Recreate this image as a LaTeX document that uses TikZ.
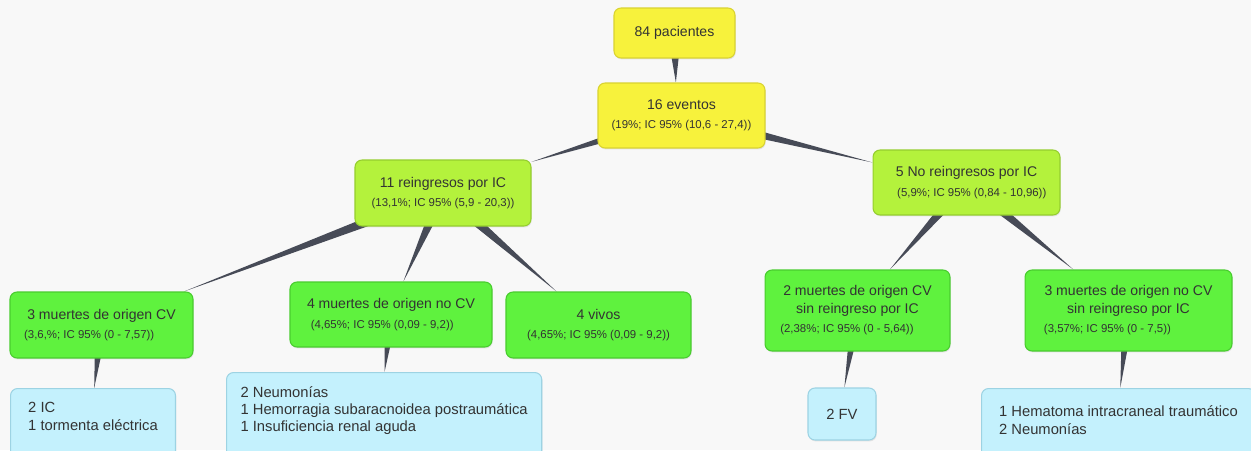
\documentclass[tikz,border=0pt]{standalone}
\usepackage{xcolor}
\usepackage{tikz}
\usepackage{fontspec}
\setmainfont{Liberation Sans}
\usetikzlibrary{calc,shadows,backgrounds}

\definecolor{pagebg}{HTML}{F8F8F8}
\definecolor{linkcol}{HTML}{474B57}
\definecolor{txtcol}{HTML}{333333}
\definecolor{yelfill}{HTML}{F7F23C}
\definecolor{yeldraw}{HTML}{D9D330}
\definecolor{limefill}{HTML}{B4F23C}
\definecolor{limedraw}{HTML}{95CE2E}
\definecolor{grnfill}{HTML}{5FF23E}
\definecolor{grndraw}{HTML}{48CC2E}
\definecolor{bluefill}{HTML}{C4F1FD}
\definecolor{bluedraw}{HTML}{9DD3E3}

\newcommand\mainfs{\fontsize{8}{9.6}\selectfont}
\newcommand\subfs{\fontsize{6.5}{7.6}\selectfont}
\newcommand\listfs{\fontsize{8.4}{9.8}\selectfont}
% tapered connector, thick at the parent, pointed at the child's border
\newcommand\taper[3]{\fill[linkcol] ($(#1.center)!#3!90:(#2.center)$) -- ($(#1.center)!#3!-90:(#2.center)$) -- (#2) -- cycle;}

\begin{document}
\begin{tikzpicture}[x=0.02cm,y=-0.02cm,
    box/.style={rounded corners=4pt, line width=0.6pt, align=center, text=txtcol, inner sep=0pt,
      drop shadow={opacity=0.18, shadow xshift=0.4pt, shadow yshift=-0.8pt}},
    yelbox/.style={box, fill=yelfill, draw=yeldraw},
    limebox/.style={box, fill=limefill, draw=limedraw},
    grnbox/.style={box, fill=grnfill, draw=grndraw},
    bluebox/.style={box, fill=bluefill, draw=bluedraw, align=left, font=\listfs}]

% page
\clip (0,0) rectangle (1251,450);

% top of the tree
\node[yelbox, minimum width=2.42cm, minimum height=1.0cm, font=\mainfs] (pac) at (674.5,33) {84 pacientes};
\node[yelbox, minimum width=3.34cm, minimum height=1.3cm] (ev) at (681.5,115.5)
  {{\mainfs 16 eventos}\\[-1pt]{\subfs (19\%; IC 95\% (10,6 - 27,4))}};

% second level
\node[limebox, minimum width=3.52cm, minimum height=1.32cm] (reing) at (443,193)
  {{\mainfs 11 reingresos por IC}\\[-1pt]{\subfs (13,1\%; IC 95\% (5,9 - 20,3))}};
\node[limebox, minimum width=3.74cm, minimum height=1.3cm] (noreing) at (966.5,182.5)
  {{\mainfs 5 No reingresos por IC}\\[-1pt]{\subfs \hspace*{6pt}(5,9\%; IC 95\% (0,84 - 10,96))}};

% third level
\node[grnbox, minimum width=3.66cm, minimum height=1.32cm] (mcv) at (101.5,325)
  {{\mainfs 3 muertes de origen CV}\\[-1pt]{\subfs (3,6,\%; IC 95\% (0 - 7,57))\hspace*{14pt}}};
\node[grnbox, minimum width=4.04cm, minimum height=1.3cm] (mnocv) at (391,314.5)
  {{\mainfs 4 muertes de origen no CV}\\[-1pt]{\subfs (4,65\%; IC 95\% (0,09 - 9,2))\hspace*{10pt}}};
\node[grnbox, minimum width=3.7cm, minimum height=1.32cm] (vivos) at (598.5,325)
  {{\mainfs 4 vivos}\\[-1pt]{\subfs (4,65\%; IC 95\% (0,09 - 9,2))}};
\node[grnbox, minimum width=3.7cm, minimum height=1.62cm] (mcvsin) at (857.5,310.5)
  {{\mainfs 2 muertes de origen CV}\\[-2pt]{\mainfs sin reingreso por IC}\\[-1pt]{\subfs (2,38\%; IC 95\% (0 - 5,64))\hspace*{12pt}}};
\node[grnbox, minimum width=4.14cm, minimum height=1.62cm] (mnocvsin) at (1128.5,310.5)
  {{\mainfs 3 muertes de origen no CV}\\[-2pt]{\mainfs sin reingreso por IC}\\[-1pt]{\subfs (3,57\%; IC 95\% (0 - 7,5))\hspace*{24pt}}};

% causes
\node[bluebox, anchor=north west, minimum width=3.3cm, inner xsep=7.5pt, inner ysep=8pt, text depth=40pt] (ic) at (10,388)
  {2 IC\\1 tormenta eléctrica};
\node[bluebox, anchor=north west, minimum width=6.26cm, inner xsep=8pt, inner ysep=8pt, text depth=40pt] (neu) at (226,372)
  {2 Neumonías\\1 Hemorragia subaracnoidea postraumática\\1 Insuficiencia renal aguda};
\node[bluebox, align=center, minimum width=1.36cm, minimum height=1.04cm] (fv) at (842,414) {2 FV};
\node[bluebox, anchor=north west, minimum width=5.28cm, inner xsep=10pt, inner ysep=10pt, text depth=40pt] (hem) at (981,388)
  {1 Hematoma intracraneal traumático\\2 Neumonías};

% page colour and connectors behind the boxes
\begin{scope}[on background layer]
  \fill[pagebg] (0,0) rectangle (1251,450);
  \taper{pac}{ev}{4pt}
  \taper{ev}{reing}{3.5pt}
  \taper{ev}{noreing}{3.5pt}
  \taper{reing}{mcv}{3.5pt}
  \taper{reing}{mnocv}{3.5pt}
  \taper{reing}{vivos}{3.5pt}
  \taper{noreing}{mcvsin}{3.5pt}
  \taper{noreing}{mnocvsin}{3.5pt}
  \taper{mcv}{ic}{3.5pt}
  \taper{mnocv}{neu}{3.5pt}
  \taper{mcvsin}{fv}{3.5pt}
  \taper{mnocvsin}{hem}{3.5pt}
\end{scope}
\end{tikzpicture}
\end{document}
